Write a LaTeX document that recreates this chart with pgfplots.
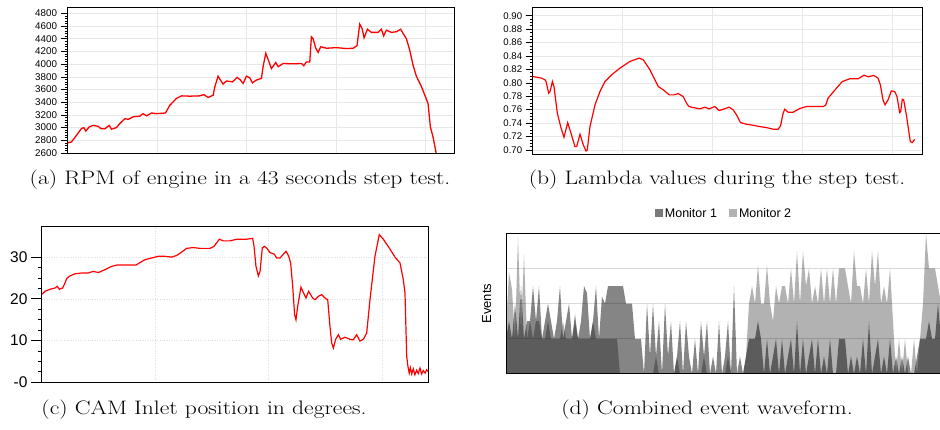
\documentclass[border=0pt]{standalone}
\usepackage{graphicx}
\usepackage{pgfplots}
\pgfplotsset{compat=1.18}
\usepackage{fontspec}
\newfontfamily\sansf{Liberation Sans}
\definecolor{mtwo}{RGB}{178,178,178}
\definecolor{gridc}{RGB}{232,232,232}
\newcommand{\capfont}{\fontsize{19.5}{22}\selectfont}
\begin{document}
\begin{tikzpicture}[x=1pt,y=1pt]
% ---------------- (a) RPM ----------------
\begin{axis}[
  at={(67.5pt,277pt)}, anchor=south west, scale only axis,
  width=386.5pt, height=146pt,
  xmin=0, xmax=43.2, ymin=2600, ymax=4900,
  xtick={10,20,30,40}, xticklabels={}, xtick style={draw=none},
  ytick={2600,2800,3000,3200,3400,3600,3800,4000,4200,4400,4600,4800},
  minor y tick num=4, ytick pos=left, tick align=outside,
  major tick length=7pt, minor tick length=3pt,
  grid=major, major grid style={gridc, line width=0.6pt},
  axis line style={line width=0.8pt},
  tick style={black, line width=0.6pt},
  yticklabel style={font=\sansf\fontsize{9.8}{11}\selectfont, /pgf/number format/1000 sep={}, /pgf/number format/assume math mode=true},
]
\addplot[red, line width=1.3pt] coordinates {
(0,2758) (0.45,2774) (1.01,2880) (1.56,2985) (1.82,3000) (2.05,2945) (2.42,3010) (2.87,3035) (3.43,3020) (3.72,2985) (4.17,2980) (4.66,3035) (4.92,2975) (5.47,3000) (5.85,3065) (6.41,3140) (6.78,3130) (7.34,3170) (8.08,3180) (8.45,3220) (8.83,3185) (9.39,3230) (9.94,3220) (10.95,3230) (11.43,3350) (12.18,3460) (12.74,3500) (13.67,3495) (14.79,3500) (15.23,3520) (15.72,3475) (16.28,3510) (16.46,3640) (16.83,3810) (17.09,3750) (17.39,3685) (17.77,3735) (18.44,3720) (18.96,3790) (19.33,3750) (19.63,3695) (20.0,3810) (20.37,3785) (20.67,3705) (21.12,3750) (21.68,3775) (21.86,3960) (22.16,4170) (22.42,4075) (22.79,3930) (23.28,4025) (23.54,3960) (24.10,4010) (25.21,4005) (26.15,4010) (26.41,3975) (26.70,4035) (27.08,4035) (27.26,4430) (27.45,4400) (27.75,4250) (28.01,4185) (28.31,4275) (28.94,4250) (30.06,4260) (31.17,4245) (31.92,4250) (32.36,4290) (32.66,4630) (32.92,4565) (33.15,4415) (33.52,4550) (33.97,4500) (34.71,4500) (35.08,4550) (35.34,4445) (35.64,4535) (36.20,4500) (36.76,4510) (37.24,4550) (37.50,4485) (37.88,4400) (38.25,4220) (38.62,3985) (38.99,3810) (39.55,3650) (40.30,3380) (40.56,3010) (40.86,2850) (41.23,2580)
};
\end{axis}
% ---------------- (b) Lambda ----------------
\begin{axis}[
  at={(532.7pt,276pt)}, anchor=south west, scale only axis,
  width=389.3pt, height=147pt,
  xmin=0, xmax=43.3, ymin=0.694, ymax=0.913,
  xtick={10,20,30,40}, xticklabels={}, xtick style={draw=none},
  ytick={0.70,0.72,0.74,0.76,0.78,0.80,0.82,0.84,0.86,0.88,0.90},
  minor y tick num=3, ytick pos=left, tick align=outside,
  major tick length=7pt, minor tick length=3pt,
  grid=major, major grid style={gridc, line width=0.6pt},
  axis line style={line width=0.8pt},
  tick style={black, line width=0.6pt},
  yticklabel style={font=\sansf\fontsize{9.6}{11}\selectfont, /pgf/number format/fixed, /pgf/number format/fixed zerofill, /pgf/number format/precision=2, /pgf/number format/assume math mode=true},
]
\addplot[red, line width=1.2pt] coordinates {
(0,0.8095) (1.0,0.807) (1.37,0.8045) (1.48,0.802) (1.78,0.7846) (1.93,0.787) (2.19,0.802) (2.37,0.7945) (2.74,0.7547) (3.11,0.7348) (3.48,0.7189) (3.89,0.7408) (4.26,0.7249) (4.70,0.705) (4.89,0.705) (5.26,0.7234) (5.63,0.7075) (5.93,0.6985) (6.07,0.70) (6.37,0.7348) (6.93,0.7672) (7.48,0.787) (8.04,0.802) (8.78,0.812) (9.70,0.8219) (10.81,0.8318) (11.85,0.8368) (12.30,0.8343) (13.04,0.8194) (13.96,0.7945) (14.52,0.7896) (15.19,0.7821) (15.70,0.7821) (16.19,0.784) (16.74,0.7796) (17.11,0.7697) (17.37,0.7647) (17.85,0.7632) (18.59,0.7612) (19.15,0.7637) (19.63,0.7612) (20.26,0.7647) (20.74,0.7587) (21.19,0.7607) (21.85,0.7637) (22.30,0.7597) (22.67,0.7522) (23.11,0.7408) (23.78,0.7383) (24.52,0.7368) (25.26,0.7348) (26.0,0.7333) (26.81,0.7308) (27.30,0.7308) (27.56,0.7358) (27.85,0.7547) (28.04,0.7607) (28.41,0.7562) (28.96,0.7562) (29.70,0.7617) (30.44,0.7647) (31.56,0.7647) (32.30,0.7647) (32.59,0.7667) (32.85,0.7771) (33.22,0.7831) (33.78,0.792) (34.44,0.802) (35.26,0.806) (36.19,0.806) (36.85,0.8114) (37.30,0.809) (37.93,0.811) (38.41,0.807) (38.67,0.797) (38.96,0.7746) (39.19,0.7672) (39.52,0.7746) (39.89,0.788) (40.26,0.787) (40.52,0.7796) (40.81,0.7557) (40.93,0.7572) (41.11,0.7756) (41.26,0.7746) (41.56,0.7522) (42.0,0.7124) (42.22,0.711) (42.48,0.7159)
};
\end{axis}
% ---------------- (c) CAM ----------------
\begin{axis}[
  at={(42pt,47.7pt)}, anchor=south west, scale only axis,
  width=386pt, height=155.6pt,
  xmin=0, xmax=3.406, ymin=0, ymax=37.3,
  xtick={1,2,3}, xticklabels={}, xtick style={draw=none},
  ytick={0,10,20,30}, yticklabels={-0,10,20,30},
  minor y tick num=3, ytick pos=left, tick align=outside,
  major tick length=11pt, minor tick length=4pt,
  grid=major, major grid style={gray!25, dotted, line width=0.6pt},
  axis line style={line width=1pt},
  tick style={black, line width=0.8pt},
  yticklabel style={font=\sansf\fontsize{15.5}{17}\selectfont, /pgf/number format/assume math mode=true},
]
\addplot[red, line width=1.2pt] coordinates {
(0,21.1) (0.026,21.8) (0.071,22.3) (0.115,22.6) (0.135,23.0) (0.153,22.3) (0.182,22.6) (0.203,23.8) (0.218,24.9) (0.247,25.5) (0.291,26.0) (0.35,26.2) (0.409,26.2) (0.453,26.6) (0.497,26.3) (0.556,27.0) (0.615,27.8) (0.659,28.1) (0.747,28.1) (0.829,28.1) (0.865,28.7) (0.909,29.4) (0.968,29.8) (1.026,30.2) (1.085,30.2) (1.144,30.0) (1.188,30.4) (1.232,31.2) (1.276,32.1) (1.335,32.3) (1.394,32.1) (1.482,32.1) (1.518,32.6) (1.565,34.3) (1.6,33.9) (1.659,33.9) (1.718,34.3) (1.806,34.3) (1.859,34.5) (1.871,32.6) (1.888,27.8) (1.909,25.5) (1.924,26.6) (1.944,32.2) (1.962,32.6) (1.982,32.2) (2.012,31.1) (2.05,30.7) (2.071,29.8) (2.1,29.8) (2.153,31.4) (2.176,30.3) (2.194,28.6) (2.212,23.0) (2.229,16.2) (2.241,15.0) (2.256,18.2) (2.285,22.8) (2.315,21.0) (2.329,20.2) (2.353,21.8) (2.388,20.2) (2.409,19.8) (2.438,20.6) (2.468,21.0) (2.497,20.2) (2.521,19.8) (2.541,13.4) (2.556,9.4) (2.571,8.2) (2.591,10.3) (2.615,11.4) (2.635,10.3) (2.674,10.8) (2.718,10.3) (2.747,10.2) (2.776,11.4) (2.806,9.9) (2.835,10.3) (2.865,11.8) (2.894,19.8) (2.938,30.2) (2.976,35.4) (3.012,34.3) (3.071,31.9) (3.115,30.0) (3.159,28.6) (3.188,24.6) (3.203,21.4) (3.218,6.2) (3.229,3.8) (3.24,2.2) (3.25,3.5) (3.262,2.0) (3.276,3.2) (3.29,1.8) (3.306,2.9) (3.32,2.1) (3.335,3.4) (3.35,2.0) (3.365,2.8) (3.38,2.2) (3.394,3.0) (3.406,2.6)
};
\end{axis}
% ---------------- (d) Events ----------------
\begin{axis}[
  at={(506pt,56pt)}, anchor=south west, scale only axis,
  width=436pt, height=140.7pt,
  xmin=0, xmax=436, ymin=0, ymax=4,
  xtick=\empty, ytick={1,2,3}, yticklabels={}, major tick length=0pt,
  ymajorgrids, major grid style={black, opacity=0.15, line width=1pt},
  axis on top, axis line style={line width=1pt},
  ylabel={Events},
  ylabel style={font=\sansf\fontsize{13}{15}\selectfont, at={(axis description cs:-0.044,0.5)}, anchor=center},
  legend columns=2,
  legend style={draw=none, fill=none, font=\sansf\fontsize{12.5}{14}\selectfont, at={(axis description cs:0.5,1)}, anchor=center, yshift=20pt, /tikz/every even column/.append style={column sep=10pt}},
  legend image code/.code={\fill[#1] (0pt,-3.7pt) rectangle (8pt,4pt);},
]
\addplot[fill=mtwo, draw=none, forget plot] coordinates {
(0,1.3) (3,2.9) (6,2.4) (9,1) (12,3.9) (15,1.2) (18,3.4) (21,1) (24,1.5) (27,1) (30,1.5) (33,1.5) (36,1) (39,1) (42,1.5) (45,1) (48,1) (51,1) (54,1) (57,1.5) (60,1) (63,1) (66,1) (69,1.5) (72,1) (75,1) (78,1) (81,1) (84,1) (87,1.5) (90,1) (93,1) (96,1) (99,1) (102,1) (105,1) (108,1) (111,1) (114,0) (117,0) (120,0) (123,0) (126,0) (129,0) (132,0) (135,0) (138,0) (141,0) (144,0) (147,0) (150,0.5) (153,0) (156,0) (159,0) (162,0) (165,0) (168,0) (171,0.5) (174,0) (177,0) (180,0) (183,0) (186,0) (189,0) (192,0) (195,0) (198,0.5) (201,0) (204,0) (207,0) (210,0) (213,0) (216,0) (219,0) (222,0.5) (225,0) (228,0) (231,0) (234,0) (237,0) (240,0.5) (243,2) (246,2.5) (249,2) (252,3.1) (255,2) (258,2) (261,3.1) (264,2) (267,1.5) (270,2.5) (273,2) (276,2.5) (279,2.5) (282,2) (285,3) (288,2) (291,3.5) (294,2) (297,3.5) (300,2.5) (303,3) (306,2) (309,2.5) (312,2) (315,3) (318,2) (321,3) (324,2) (327,3) (330,2) (333,3) (336,3) (339,3) (342,2.5) (345,2) (348,3.5) (351,2.5) (354,2.5) (357,2) (360,3) (363,2) (366,3.5) (369,2.5) (372,3.5) (375,2) (378,2.5) (381,2) (384,3) (387,1.5) (390,0) (393,1) (396,0) (399,1) (402,0) (405,0) (408,1) (411,0) (414,1) (417,2) (420,4) (423,3) (426,3) (429,3) (432,2.5) (435,2) (438,2)
} \closedcycle;
\addplot[fill=black, fill opacity=0.48, draw=none, forget plot] coordinates {
(0,1) (3,1.5) (6,1) (9,2) (12,1) (15,2.5) (18,1) (21,1.5) (24,1.5) (27,2.5) (30,1.5) (33,2.5) (36,1) (39,1.5) (42,2) (45,1.5) (48,1) (51,1.5) (54,2.5) (57,1) (60,1.5) (63,2) (66,1) (69,1.7) (72,1) (75,1.5) (78,2.5) (81,2.3) (84,1) (87,1.5) (90,2.5) (93,1) (96,2.2) (99,2) (102,2.5) (105,2.5) (108,2.5) (111,2.5) (114,2.5) (117,2.5) (120,2) (123,2) (126,2) (129,1) (132,1) (135,1) (138,0) (141,2) (144,0.5) (147,2) (150,0.5) (153,1.5) (156,0) (159,2) (162,0.5) (165,1.5) (168,0) (171,0.5) (174,1.5) (177,0) (180,1.5) (183,0.5) (186,0) (189,1) (192,0) (195,1.5) (198,0.5) (201,1.5) (204,0) (207,0.5) (210,0) (213,1.5) (216,0) (219,0.5) (222,1.5) (225,0) (228,2.5) (231,0) (234,0.5) (237,0) (240,0.5) (243,1) (246,1) (249,1) (252,1.5) (255,1) (258,0) (261,1) (264,0) (267,0.5) (270,1) (273,0) (276,1) (279,0) (282,0.5) (285,1) (288,0) (291,1.5) (294,0) (297,1) (300,0) (303,0.5) (306,1) (309,0) (312,1) (315,0) (318,0.5) (321,0) (324,1) (327,0) (330,0) (333,1) (336,1) (339,1) (342,0) (345,0.5) (348,0) (351,0.5) (354,0) (357,1) (360,0) (363,1.5) (366,0) (369,0.5) (372,1) (375,0) (378,0.5) (381,0) (384,1) (387,0) (390,0.5) (393,0) (396,0.5) (399,0) (402,0.5) (405,0) (408,0) (411,0.5) (414,1) (417,1) (420,1) (423,1.5) (426,1) (429,1) (432,2) (435,1) (438,1)
} \closedcycle;
\addlegendimage{fill=black!52, draw=none}
\addlegendentry{Monitor 1}
\addlegendimage{fill=mtwo, draw=none}
\addlegendentry{Monitor 2}
\end{axis}
% ---------------- captions ----------------
\node[font=\capfont] at (240,250) {\scalebox{1.21}[1]{(a) RPM of engine in a 43 seconds step test.}};
\node[font=\capfont] at (717,250) {\scalebox{1.21}[1]{(b) Lambda values during the step test.}};
\node[font=\capfont] at (204,20) {\scalebox{1.21}[1]{(c) CAM Inlet position in degrees.}};
\node[font=\capfont] at (707,20) {\scalebox{1.21}[1]{(d) Combined event waveform.}};
\pgfresetboundingbox
\useasboundingbox (0,0) rectangle (940,430);
\end{tikzpicture}
\end{document}
